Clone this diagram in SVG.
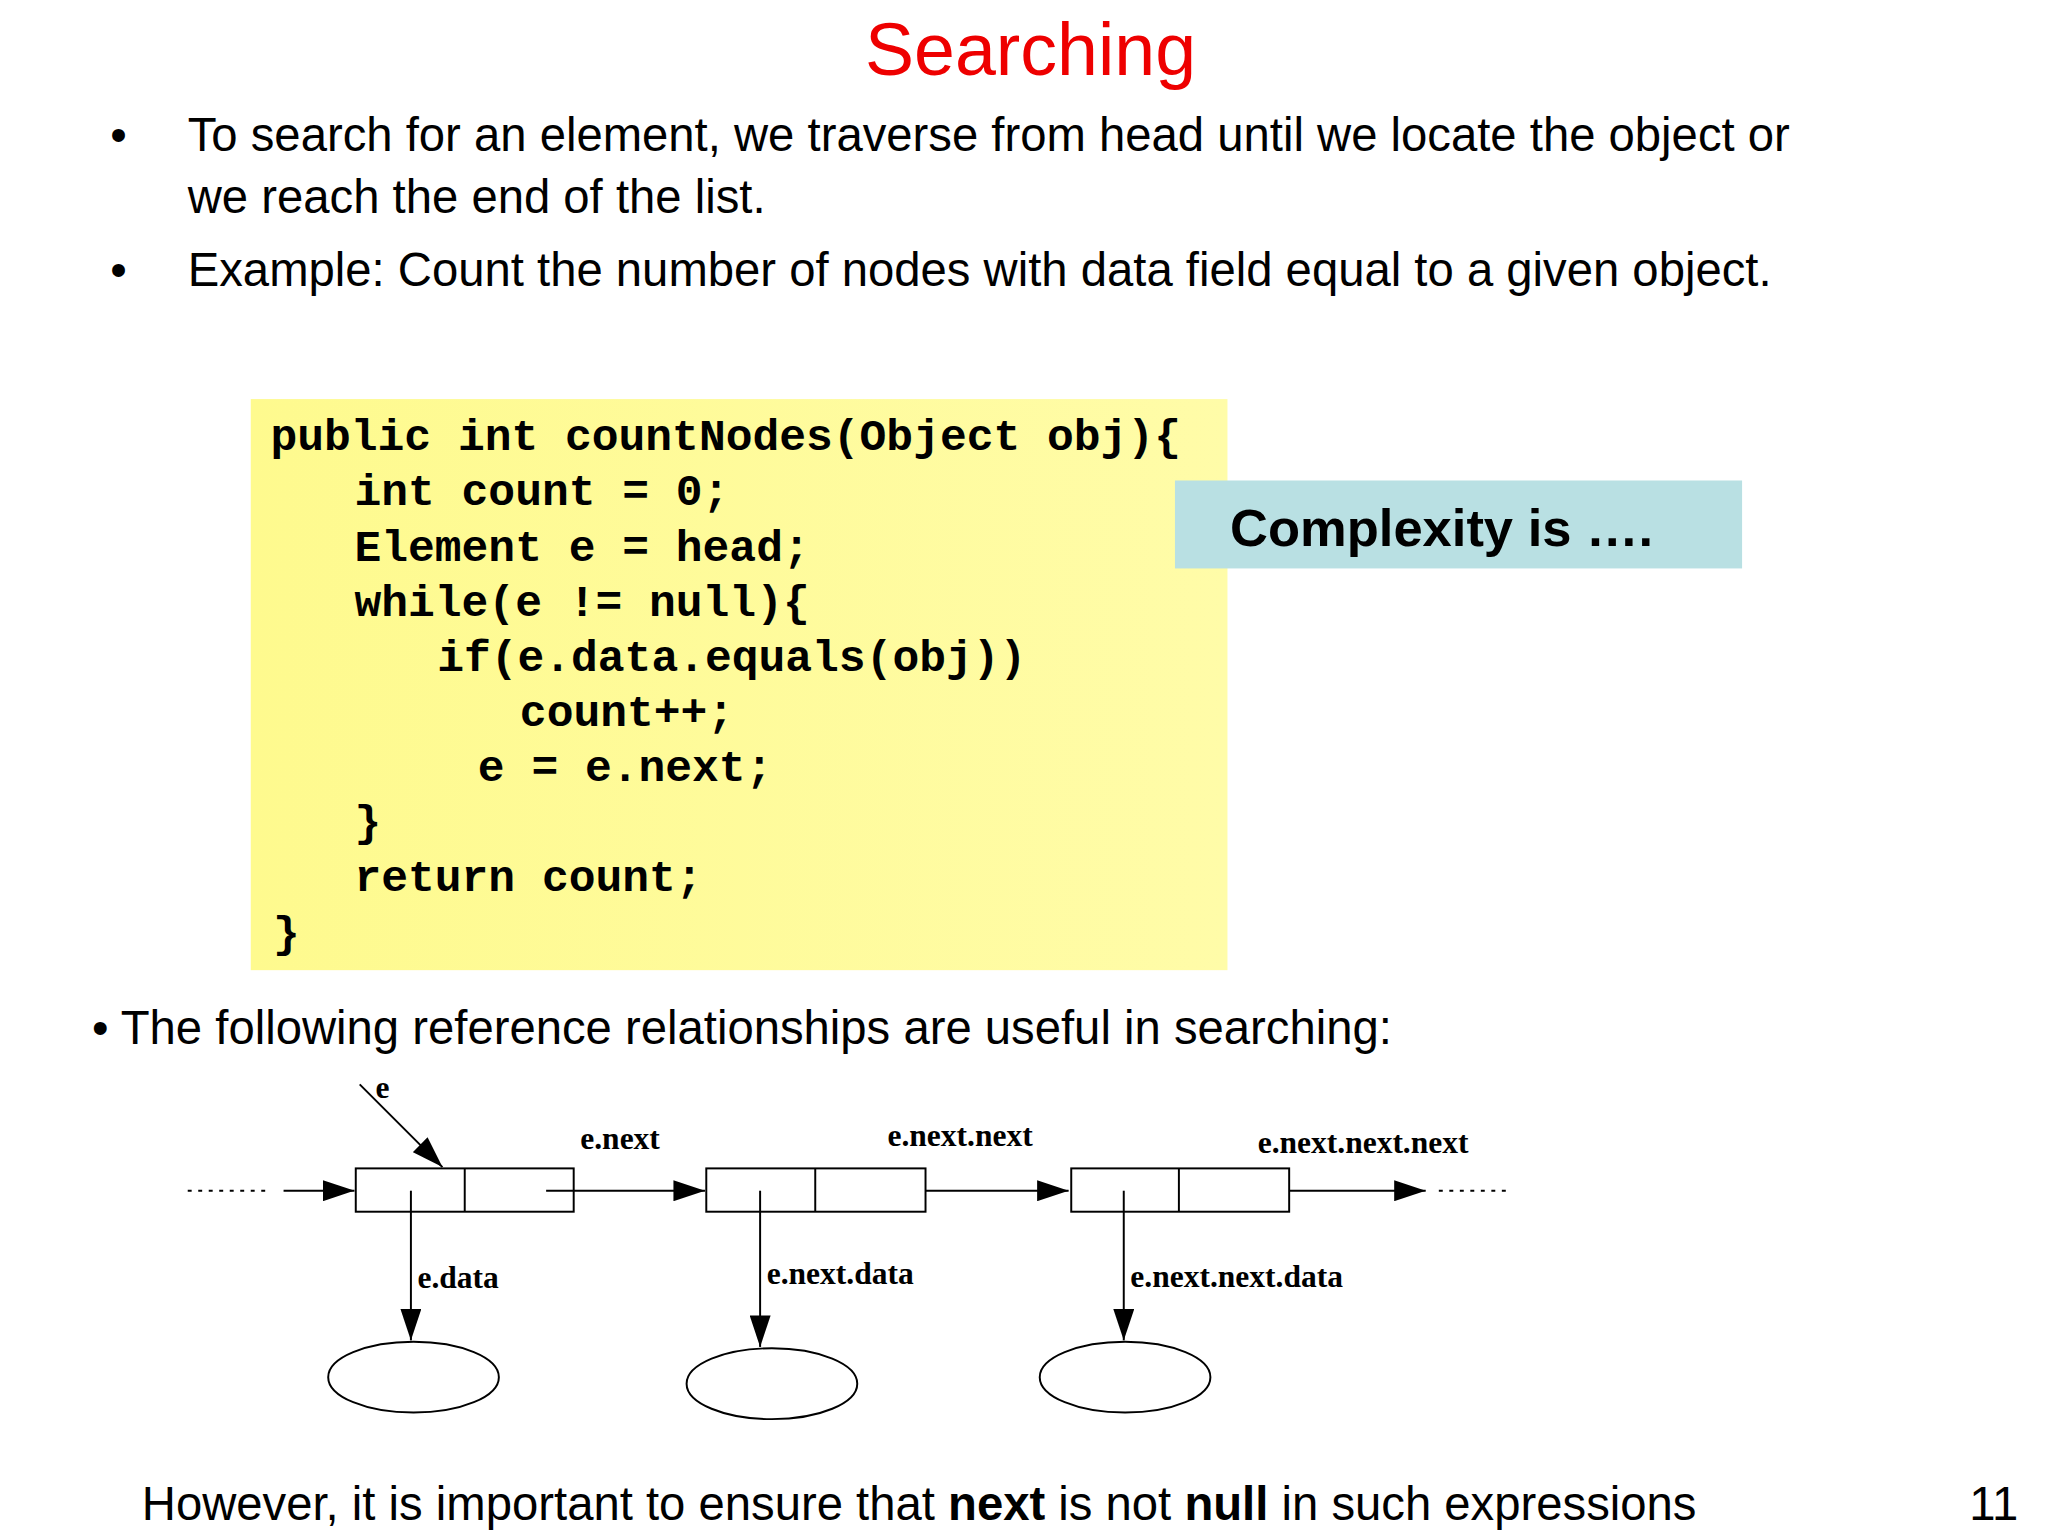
<svg xmlns="http://www.w3.org/2000/svg" width="2048" height="1536" viewBox="0 0 2048 1536">
<defs>
<marker id="ah" viewBox="0 0 10 10" refX="10" refY="5" markerWidth="8" markerHeight="8" markerUnits="userSpaceOnUse" orient="auto"><path d="M0,0 L10,5 L0,10 z" fill="#000"/></marker>
<marker id="ah2" viewBox="0 0 10 10" refX="10" refY="5" markerWidth="24" markerHeight="16" markerUnits="userSpaceOnUse" orient="auto" preserveAspectRatio="none"><path d="M0,0 L10,5 L0,10 z" fill="#000"/></marker>
<linearGradient id="yg" x1="0" x2="1" y1="0" y2="0"><stop offset="0" stop-color="#fefa8e"/><stop offset="1" stop-color="#fffca8"/></linearGradient>
</defs>
<style>
.s{font-family:"Liberation Sans",Arial,sans-serif;font-size:36px;fill:#000}
.c{font-family:"Liberation Mono","Courier New",monospace;font-size:34px;font-weight:bold;fill:#000}
.t{font-family:"Liberation Serif","Times New Roman",serif;font-size:24px;font-weight:bold;fill:#000}
.ln{stroke:#000;stroke-width:1.5;fill:none}
</style>
<rect width="2048" height="1536" fill="#fff"/>
<g transform="scale(1.3128)">
<text x="785" y="57" text-anchor="middle" style="font-family:'Liberation Sans',Arial,sans-serif;font-size:56px;fill:#ee0000">Searching</text>
<g id="bullets">
<text class="s" x="84" y="115">•</text>
<text class="s" x="143" y="115">To search for an element, we traverse from head until we locate the object or</text>
<text class="s" x="143" y="162">we reach the end of the list.</text>
<text class="s" x="84" y="218">•</text>
<text class="s" x="143" y="218">Example: Count the number of nodes with data field equal to a given object.</text>
</g>
<g id="code">
<rect x="191" y="304" width="744" height="435" fill="url(#yg)"/>
<text class="c" x="206" y="343" xml:space="preserve">public int countNodes(Object obj){</text>
<text class="c" x="270" y="385" xml:space="preserve">int count = 0;</text>
<text class="c" x="270" y="427" xml:space="preserve">Element e = head;</text>
<text class="c" x="270" y="469" xml:space="preserve">while(e != null){</text>
<text class="c" x="333" y="511" xml:space="preserve">if(e.data.equals(obj))</text>
<text class="c" x="396" y="553" xml:space="preserve">count++;</text>
<text class="c" x="364" y="595" xml:space="preserve">e = e.next;</text>
<text class="c" x="270" y="637">}</text>
<text class="c" x="270" y="679" xml:space="preserve">return count;</text>
<text class="c" x="208" y="721">}</text>
</g>
<g id="complexity">
<rect x="895" y="366" width="432" height="67" fill="#b9e0e3"/>
<text x="937" y="416" style="font-family:'Liberation Sans',Arial,sans-serif;font-size:40px;font-weight:bold">Complexity is ….</text>
</g>
<text class="s" x="70" y="795">• The following reference relationships are useful in searching:</text>
<g id="nodes">
<g id="n1"><rect class="ln" x="271" y="890" width="166" height="33"/><line class="ln" x1="354" y1="890" x2="354" y2="923"/></g>
<g id="n2"><rect class="ln" x="538" y="890" width="167" height="33"/><line class="ln" x1="621" y1="890" x2="621" y2="923"/></g>
<g id="n3"><rect class="ln" x="816" y="890" width="166" height="33"/><line class="ln" x1="898" y1="890" x2="898" y2="923"/></g>
<g id="d1"><ellipse class="ln" cx="315" cy="1049" rx="65" ry="27"/></g>
<g id="d2"><ellipse class="ln" cx="588" cy="1054" rx="65" ry="27"/></g>
<g id="d3"><ellipse class="ln" cx="857" cy="1049" rx="65" ry="27"/></g>
</g>
<g id="connectors">
<line class="ln" x1="143" y1="907" x2="207" y2="907" stroke-dasharray="3,5"/>
<line class="ln" x1="216" y1="907" x2="270" y2="907" marker-end="url(#ah2)"/>
<line class="ln" x1="416" y1="907" x2="537" y2="907" marker-end="url(#ah2)"/>
<line class="ln" x1="705" y1="907" x2="814" y2="907" marker-end="url(#ah2)"/>
<line class="ln" x1="982" y1="907" x2="1086" y2="907" marker-end="url(#ah2)"/>
<line class="ln" x1="1096" y1="907" x2="1150" y2="907" stroke-dasharray="3,5"/>
<line class="ln" x1="274" y1="826" x2="337" y2="889" marker-end="url(#ah2)"/>
<line class="ln" x1="313" y1="907" x2="313" y2="1021" marker-end="url(#ah2)"/>
<line class="ln" x1="579" y1="907" x2="579" y2="1026" marker-end="url(#ah2)"/>
<line class="ln" x1="856" y1="907" x2="856" y2="1021" marker-end="url(#ah2)"/>
<text class="t" x="286" y="836">e</text>
<text class="t" x="442" y="875">e.next</text>
<text class="t" x="676" y="873">e.next.next</text>
<text class="t" x="958" y="878">e.next.next.next</text>
<text class="t" x="318" y="981">e.data</text>
<text class="t" x="584" y="978">e.next.data</text>
<text class="t" x="861" y="980">e.next.next.data</text>
</g>
<text class="s" x="108" y="1158">However, it is important to ensure that <tspan font-weight="bold">next</tspan> is not <tspan font-weight="bold">null</tspan> in such expressions</text>
<text class="s" x="1500" y="1158">11</text>
</g>
</svg>
